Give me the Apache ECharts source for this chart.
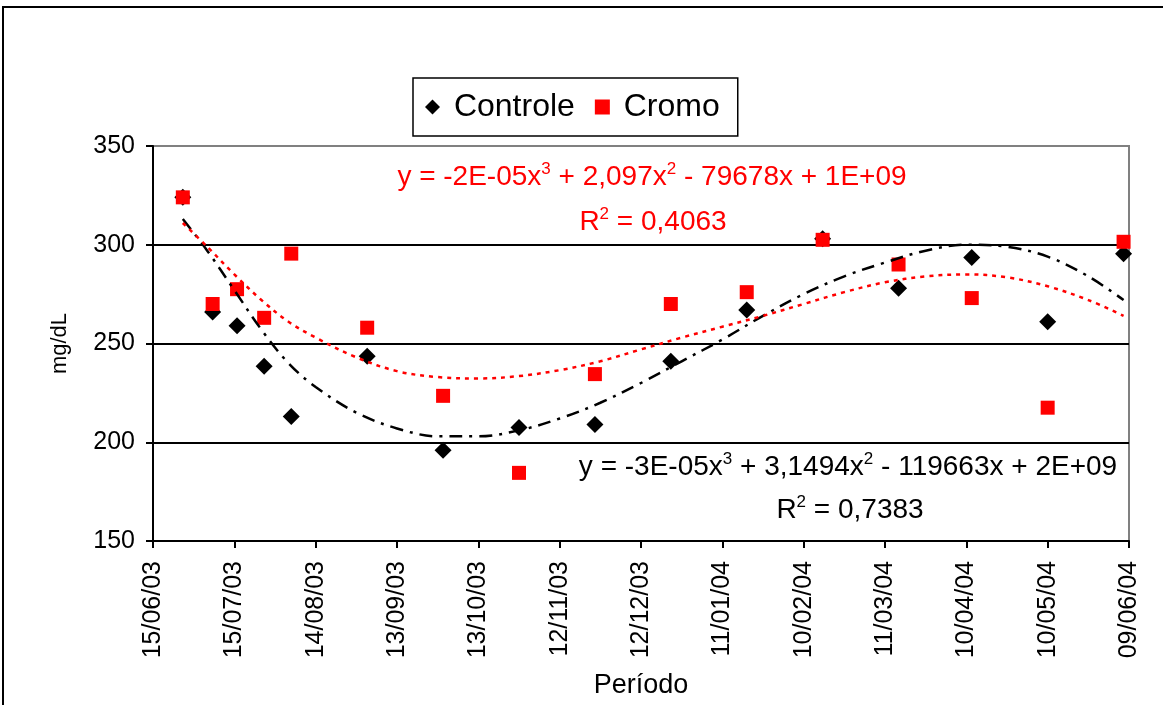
<!DOCTYPE html>
<html>
<head>
<meta charset="utf-8">
<script src="https://cdn.jsdelivr.net/npm/echarts@6/dist/echarts.min.js"></script>
<style>
html,body{margin:0;padding:0;background:#fff;}
#c{width:1163px;height:705px;}
</style>
</head>
<body>
<div id="c"></div>
<script>
// ---- data ----
const xTickLabels = ['15/06/03','15/07/03','14/08/03','13/09/03','13/10/03','12/11/03','12/12/03','11/01/04','10/02/04','11/03/04','10/04/04','10/05/04','09/06/04'];
const yTicks = [150, 200, 250, 300, 350];
const sampleDates = ['2003-06-26','2003-07-07','2003-07-16','2003-07-26','2003-08-05','2003-09-02','2003-09-30','2003-10-28','2003-11-25','2003-12-23','2004-01-20','2004-02-17','2004-03-16','2004-04-12','2004-05-10','2004-06-07'];
const controle = [324, 266, 259, 238.5, 213, 243.5, 196, 207.5, 209, 241, 267, 303, 278, 293.5, 261, 295.5];
const cromo    = [324, 270, 277.5, 263, 295.5, 258, 223.5, 184.5, 234.5, 270, 276, 302.5, 290, 273, 217.5, 301.5];
// trend curves (polynomial, order 3), days after 15/06/03
const trendDays     = [11, 20, 30, 40, 50, 60, 75, 90, 105, 120, 135, 150, 165, 180, 195, 210, 225, 240, 255, 270, 285, 300, 315, 330, 345, 358];
const trendControle = [313, 297, 277, 257, 240, 228, 215, 207, 203, 203, 206, 212, 220, 230, 241, 252, 264, 275, 284, 291, 297, 300, 299, 294, 284, 272];
const trendCromo    = [311, 299, 285, 272, 261, 253, 243, 236, 233, 232.3, 233.5, 236.5, 241, 247, 253, 258.5, 264, 270, 276, 281, 284, 285, 283.5, 279, 272, 264];
const eqCromo = ['y = -2E-05x', '3', ' + 2,097x', '2', ' - 79678x + 1E+09'];
const r2Cromo = ['R', '2', ' = 0,4063'];
const eqControle = ['y = -3E-05x', '3', ' + 3,1494x', '2', ' - 119663x + 2E+09'];
const r2Controle = ['R', '2', ' = 0,7383'];

// ---- helpers ----
const base = Date.UTC(2003, 5, 15);
const dayOf = s => (Date.parse(s + 'T00:00:00Z') - base) / 86400000;
const FONT = '"Liberation Sans", Arial, sans-serif';

function richText(parts) {
  return parts.map((p, i) => (i % 2 === 1 ? '{s|' + p + '}' : '{n|' + p + '}')).join('');
}
function eqRich(color) {
  return {
    n: { fontSize: 28, fontFamily: FONT, fill: color, color: color },
    s: { fontSize: 17, fontFamily: FONT, fill: color, color: color, padding: [0, 0, 15, 0] }
  };
}
function eqText(parts, x, y, color) {
  return {
    type: 'text', x: x, y: y, z: 10,
    style: { text: richText(parts), align: 'center', verticalAlign: 'middle', fill: color, font: '28px ' + FONT, rich: eqRich(color) }
  };
}

const chart = echarts.init(document.getElementById('c'), null, { renderer: 'canvas' });
const option = {
  animation: false,
  backgroundColor: '#fff',
  grid: { left: 153, right: 34, top: 146, bottom: 164, show: true, borderColor: '#808080', borderWidth: 2, backgroundColor: 'transparent' },
  legend: {
    left: 413, top: 78,
    padding: [13, 18, 13, 12],
    itemGap: 20, itemWidth: 15, itemHeight: 15,
    borderColor: '#000', borderWidth: 1.5, backgroundColor: '#fff',
    textStyle: { fontSize: 32, fontFamily: FONT, color: '#000' },
    formatter: n => ' ' + n,
    data: [{ name: 'Controle', icon: 'diamond' }, { name: 'Cromo', icon: 'rect' }]
  },
  xAxis: {
    type: 'value', min: 0, max: 360, interval: 30,
    name: 'Período', nameLocation: 'middle', nameGap: 131,
    nameTextStyle: { fontSize: 27, fontFamily: FONT, color: '#000' },
    axisLine: { show: true, lineStyle: { color: '#000', width: 2 } },
    axisTick: { show: true, length: 7, lineStyle: { color: '#000', width: 2 } },
    axisLabel: { rotate: 90, margin: 20, fontSize: 25, fontFamily: FONT, color: '#000',
      formatter: v => xTickLabels[Math.round(v / 30)] },
    splitLine: { show: false }
  },
  yAxis: {
    type: 'value', min: yTicks[0], max: yTicks[yTicks.length - 1], interval: 50,
    name: 'mg/dL', nameLocation: 'middle', nameGap: 82,
    nameTextStyle: { fontSize: 22, fontFamily: FONT, color: '#000' },
    axisLine: { show: true, lineStyle: { color: '#000', width: 2 } },
    axisTick: { show: true, length: 7, lineStyle: { color: '#000', width: 2 } },
    axisLabel: { margin: 18, fontSize: 25, fontFamily: FONT, color: '#000' },
    splitLine: { show: true, lineStyle: { color: ['#000', '#000', '#000', '#000', '#808080'], width: 2 } }
  },
  graphic: [
    { type: 'rect', z: 100, silent: true, shape: { x: 3, y: 7, width: 1250, height: 800 }, style: { fill: 'none', stroke: '#000', lineWidth: 2 } },
    eqText(eqCromo, 652, 177, '#ff0000'),
    eqText(r2Cromo, 653, 222, '#ff0000'),
    eqText(eqControle, 848, 467, '#000'),
    eqText(r2Controle, 850, 510, '#000')
  ],
  series: [
    {
      name: 'Controle', type: 'scatter', symbol: 'diamond', symbolSize: 17, z: 3,
      itemStyle: { color: '#000', opacity: 1 },
      data: sampleDates.map((d, i) => [dayOf(d), controle[i]])
    },
    {
      name: 'Cromo', type: 'scatter', symbol: 'rect', symbolSize: 14, z: 4,
      itemStyle: { color: '#ff0000', opacity: 1 },
      data: sampleDates.map((d, i) => [dayOf(d), cromo[i]])
    },
    {
      name: 'Tendência Controle', type: 'line', smooth: 0.35, showSymbol: false, symbol: 'none', z: 5,
      lineStyle: { color: '#000', width: 2.5, type: [13, 7, 3, 7] },
      data: trendDays.map((d, i) => [d, trendControle[i]])
    },
    {
      name: 'Tendência Cromo', type: 'line', smooth: 0.35, showSymbol: false, symbol: 'none', z: 6,
      lineStyle: { color: '#ff0000', width: 2.5, type: [4, 5] },
      data: trendDays.map((d, i) => [d, trendCromo[i]])
    }
  ]
};
chart.setOption(option);
</script>
</body>
</html>
